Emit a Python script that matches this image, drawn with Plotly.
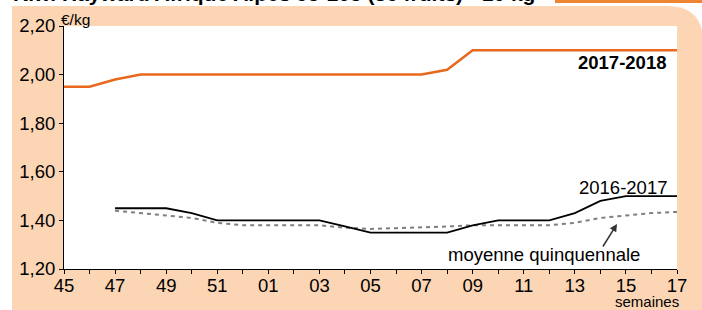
import plotly.graph_objects as go

# ---- data ----
weeks = ["45", "46", "47", "48", "49", "50", "51", "52", "01", "02", "03", "04", "05",
         "06", "07", "08", "09", "10", "11", "12", "13", "14", "15", "16", "17"]
s2017_2018 = [1.95, 1.95, 1.98, 2.00, 2.00, 2.00, 2.00, 2.00, 2.00, 2.00, 2.00, 2.00, 2.00,
              2.00, 2.00, 2.02, 2.10, 2.10, 2.10, 2.10, 2.10, 2.10, 2.10, 2.10, 2.10]
s2016_2017 = [None, None, 1.45, 1.45, 1.45, 1.43, 1.40, 1.40, 1.40, 1.40, 1.40, 1.375, 1.35,
              1.35, 1.35, 1.35, 1.38, 1.40, 1.40, 1.40, 1.43, 1.48, 1.50, 1.50, 1.50]
moyenne = [None, None, 1.44, 1.43, 1.42, 1.41, 1.39, 1.38, 1.38, 1.38, 1.38, 1.37, 1.365,
           1.368, 1.37, 1.375, 1.38, 1.38, 1.38, 1.38, 1.39, 1.41, 1.42, 1.43, 1.435]
tick_labels = [w if i % 2 == 0 else "" for i, w in enumerate(weeks)]
y_ticks = [1.20, 1.40, 1.60, 1.80, 2.00, 2.20]

W, H = 702, 310
L, R, T, B = 64, 677, 26, 269
FONT = "Liberation Sans, Arial, sans-serif"
PEACH = "#FCD5B4"
ORANGE = "#E8681E"


def px(x):
    return (x - L) / (R - L)


def py(y):
    return (B - y) / (B - T)


fig = go.Figure()
fig.add_trace(go.Scatter(x=weeks, y=moyenne, mode="lines",
                         line=dict(color="#7F7F7F", width=2, dash="4px,4px"),
                         showlegend=False, hoverinfo="skip"))
fig.add_trace(go.Scatter(x=weeks, y=s2016_2017, mode="lines",
                         line=dict(color="#000000", width=1.8),
                         showlegend=False, hoverinfo="skip"))
fig.add_trace(go.Scatter(x=weeks, y=s2017_2018, mode="lines",
                         line=dict(color=ORANGE, width=2.5),
                         showlegend=False, hoverinfo="skip"))

shapes = [
    dict(type="path", xref="paper", yref="paper", layer="below",
         path=(f"M {px(12)},{py(6)} L {px(667)},{py(6)} "
               f"Q {px(703)},{py(6)} {px(703)},{py(42)} "
               f"L {px(703)},{py(311)} L {px(12)},{py(311)} Z"),
         fillcolor=PEACH, line=dict(width=0)),
    dict(type="rect", xref="paper", yref="paper", layer="below",
         x0=0, x1=1, y0=0, y1=1, fillcolor="white", line=dict(width=0)),
    dict(type="rect", xref="paper", yref="paper", layer="above",
         x0=px(555), x1=px(703), y0=py(3), y1=py(-2),
         fillcolor="#EE8533", line=dict(width=0)),
]

annotations = [
    dict(text="<b>Kiwi Hayward Afrique Alpes 95-105 (36 fruits) - 10 kg</b>",
         xref="paper", yref="paper", x=px(11), y=py(7), xanchor="left", yanchor="bottom",
         showarrow=False, font=dict(family=FONT, size=21, color="black")),
    dict(text="€/kg", xref="paper", yref="paper", x=px(59), y=py(19),
         xanchor="left", yanchor="middle", showarrow=False,
         font=dict(family=FONT, size=15.5, color="black")),
    dict(text="<b>2017-2018</b>", xref="paper", yref="paper", x=px(668), y=py(63),
         xanchor="right", yanchor="middle", showarrow=False,
         font=dict(family=FONT, size=18.5, color="black")),
    dict(text="2016-2017", xref="paper", yref="paper", x=px(669), y=py(187),
         xanchor="right", yanchor="middle", showarrow=False,
         font=dict(family=FONT, size=18.5, color="black")),
    dict(text="moyenne quinquennale", xref="paper", yref="paper", x=px(544), y=py(254),
         xanchor="center", yanchor="middle", showarrow=False,
         font=dict(family=FONT, size=18.5, color="black")),
    dict(text="", xref="paper", yref="paper", x=px(617), y=py(224),
         ax=-15, ay=24, showarrow=True, arrowhead=2, arrowsize=1,
         arrowwidth=1.5, arrowcolor="#333333"),
    dict(text="semaines", xref="paper", yref="paper", x=px(647), y=py(301.5),
         xanchor="center", yanchor="middle", showarrow=False,
         font=dict(family=FONT, size=15, color="black")),
]

fig.update_layout(
    width=W, height=H,
    margin=dict(l=L, r=W - R, t=T, b=H - B, pad=0),
    paper_bgcolor="white", plot_bgcolor="rgba(0,0,0,0)",
    separators=",.",
    shapes=shapes, annotations=annotations,
    font=dict(family=FONT, size=18.5, color="black"),
    hovermode=False,
    xaxis=dict(type="category", range=[0, len(weeks) - 1],
               tickmode="array", tickvals=weeks, ticktext=tick_labels,
               ticks="outside", ticklen=4, tickcolor="black", tickwidth=1,
               showline=True, linecolor="black", linewidth=1,
               showgrid=False, zeroline=False, ticklabelstandoff=-4,
               tickfont=dict(family=FONT, size=18.5, color="black")),
    yaxis=dict(range=[1.2, 2.2], tickmode="array", tickvals=y_ticks,
               tickformat=".2f",
               ticks="outside", ticklen=4, tickcolor="black", tickwidth=1,
               showline=True, linecolor="black", linewidth=1,
               showgrid=False, zeroline=False,
               tickfont=dict(family=FONT, size=18.5, color="black")),
)

fig.write_html("out.html", config={"displayModeBar": False},
               post_script="document.body.style.margin='0';document.body.style.overflow='hidden';")
